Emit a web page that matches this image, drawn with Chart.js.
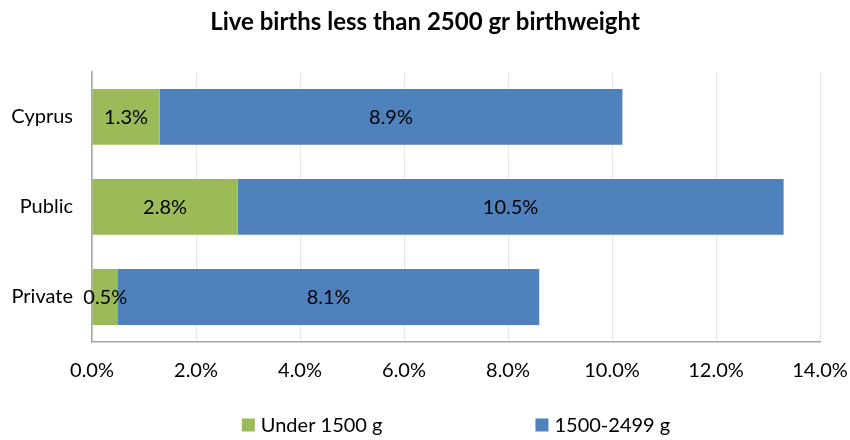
<!doctype html>
<html lang="en">
<head>
  <meta charset="utf-8">
  <title>Live births less than 2500 gr birthweight</title>
  <style>
    html, body { margin: 0; padding: 0; background: #fff; }
    #wrap { width: 850px; height: 440px; }
  </style>
</head>
<body>
<div id="wrap"><canvas id="chart1"></canvas></div>

<script src="https://cdn.jsdelivr.net/npm/chart.js@4"></script>
<script>
  const categories = ['Cyprus', 'Public', 'Private']
  const under1500 = [1.3, 2.8, 0.5]
  const from1500to2499 = [8.9, 10.5, 8.1]
  const xTicks = [0, 2, 4, 6, 8, 10, 12, 14]

  const FONT = 'Lato, "Open Sans", sans-serif'

  // writes each segment's value in the middle of its bar
  const barLabels = {
    id: 'barLabels',
    afterDatasetsDraw(chart) {
      const ctx = chart.ctx
      ctx.save()
      ctx.font = '20px ' + FONT
      ctx.fillStyle = '#000'
      ctx.textAlign = 'center'
      ctx.textBaseline = 'middle'
      chart.data.datasets.forEach((ds, i) => {
        chart.getDatasetMeta(i).data.forEach((bar, j) => {
          const { x, base, y } = bar.getProps(['x', 'base', 'y'], true)
          ctx.fillText(ds.data[j].toFixed(1) + '%', (x + base) / 2, y + 1)
        })
      })
      ctx.restore()
    }
  }

  // legend along the bottom, two wide-spaced items
  const wideLegend = {
    id: 'wideLegend',
    afterDraw(chart) {
      const ctx = chart.ctx
      const area = chart.chartArea
      const box = 13, gapText = 6, gapItems = 153, y = 425
      ctx.save()
      ctx.font = '20px ' + FONT
      ctx.textBaseline = 'middle'
      const items = chart.data.datasets.map(ds => ({
        text: ds.label,
        color: ds.backgroundColor,
        w: box + gapText + ctx.measureText(ds.label).width
      }))
      const total = items.reduce((s, it) => s + it.w, 0) + gapItems * (items.length - 1)
      let x = (area.left + area.right) / 2 - total / 2
      items.forEach(it => {
        ctx.fillStyle = it.color
        ctx.fillRect(x, y - box / 2, box, box)
        ctx.fillStyle = '#000'
        ctx.fillText(it.text, x + box + gapText, y + 1)
        x += it.w + gapItems
      })
      ctx.restore()
    }
  }

  new Chart(document.getElementById('chart1'), {
    type: 'bar',
    data: {
      labels: categories,
      datasets: [
        {
          label: 'Under 1500 g',
          data: under1500,
          backgroundColor: '#9BBB59',
          borderWidth: 0,
        },
        {
          label: '1500-2499 g',
          data: from1500to2499,
          backgroundColor: '#4F81BD',
          borderWidth: 0,
        }
      ]
    },
    options: {
      indexAxis: 'y',
      responsive: true,
      maintainAspectRatio: false,
      animation: false,
      categoryPercentage: 1,
      barPercentage: 0.62,
      layout: { padding: { left: 0, right: 0, top: 0, bottom: 40 } },
      scales: {
        x: {
          stacked: true,
          min: 0,
          max: 14,
          afterBuildTicks(axis) {
            axis.ticks = xTicks.map(v => ({ value: v }))
          },
          afterFit(axis) {
            axis.paddingLeft = 0
            axis.paddingRight = 30
          },
          ticks: {
            color: '#000',
            padding: 17,
            font: { family: FONT, size: 20 },
            callback: v => v.toFixed(1) + '%'
          },
          grid: { color: '#e6e6e6', drawTicks: false },
          border: { color: '#a6a6a6', width: 1.5 }
        },
        y: {
          stacked: true,
          afterFit(axis) { axis.width = 92 },
          ticks: {
            color: '#000',
            padding: 19,
            font: { family: FONT, size: 20 }
          },
          grid: { display: false, drawTicks: false },
          border: { color: '#a6a6a6', width: 1.5 }
        }
      },
      plugins: {
        title: {
          display: true,
          text: 'Live births less than 2500 gr birthweight',
          color: '#000',
          font: { family: FONT, size: 24, weight: 'bold' },
          padding: { top: 8, bottom: 35 }
        },
        legend: { display: false },
        tooltip: { enabled: false }
      }
    },
    plugins: [barLabels, wideLegend]
  })
</script>
</body>
</html>
